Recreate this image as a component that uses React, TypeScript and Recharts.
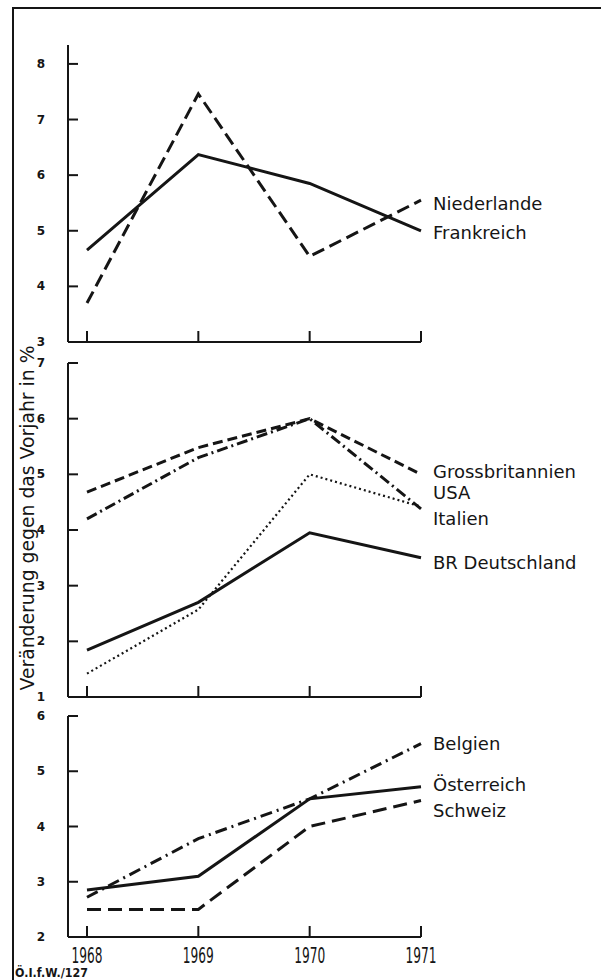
import { LineChart, Line, XAxis, YAxis, LabelList } from 'recharts';

// Veränderung gegen das Vorjahr in % (1968-1971)
const years = [1968, 1969, 1970, 1971];

// upper panel
const frankreich = [4.65, 6.37, 5.85, 5.0];
const niederlande = [3.7, 7.46, 4.54, 5.55];

// middle panel
const grossbritannien = [4.68, 5.48, 6.0, 5.0];
const usa = [4.2, 5.3, 6.0, 4.38];
const italien = [1.42, 2.57, 5.0, 4.42];
const deutschland = [1.84, 2.7, 3.95, 3.5];

// lower panel
const belgien = [2.72, 3.78, 4.5, 5.5];
const oesterreich = [2.85, 3.1, 4.5, 4.72];
const schweiz = [2.5, 2.5, 4.0, 4.47];

const topTicks = [3, 4, 5, 6, 7, 8];
const midTicks = [1, 2, 3, 4, 5, 6, 7];
const lowTicks = [2, 3, 4, 5, 6];

const INK = '#151515';
const FONT = '"DejaVu Sans", "Liberation Sans", sans-serif';
const WIDTH = 601;

type SeriesDef = {
    key: string;
    name: string;
    values: number[];
    dash?: string;
    width: number;
    labelDy: number;
};

type PanelProps = {
    series: SeriesDef[];
    domain: [number, number];
    ticks: number[];
    top: number;
    height: number;
    marginTop: number;
    xAxisHeight: number;
    showYearLabels: boolean;
};

const buildRows = (series: SeriesDef[]) =>
    years.map((year, i) => {
        const row: Record<string, number> = { year };
        series.forEach((s) => { row[s.key] = s.values[i]; });
        return row;
    });

// tick drawn inward (to the right of the axis line), number to the left
const YTick = ({ x, y, payload }: any) => (
    <g>
        <line x1={x} x2={x + 10} y1={y} y2={y} stroke={INK} strokeWidth={2} />
        <text x={x - 27} y={y} dy={4} textAnchor="middle" fontFamily={FONT} fontWeight="bold" fontSize={12} fill={INK}>
            {payload.value}
        </text>
    </g>
);

const makeXTick = (showLabel: boolean) => ({ x, y, payload }: any) => (
    <g>
        <line x1={x} x2={x} y1={y} y2={y - 11} stroke={INK} strokeWidth={2} />
        {showLabel && (
            <text x={x} y={y + 26} textAnchor="middle" fontFamily={FONT} fontSize={21} fill={INK}
                textLength={31} lengthAdjust="spacingAndGlyphs">
                {payload.value}
            </text>
        )}
    </g>
);

const endLabel = (name: string, dy: number) => (props: any) => {
    if (props.index !== years.length - 1) return null;
    const px = props.x ?? props.viewBox?.x;
    const py = props.y ?? props.viewBox?.y;
    return (
        <text x={px + 12} y={py + dy} dy={6} fontFamily={FONT} fontSize={18} fill={INK}>
            {name}
        </text>
    );
};

const Panel = ({ series, domain, ticks, top, height, marginTop, xAxisHeight, showYearLabels }: PanelProps) => (
    <div style={{ position: 'absolute', left: 0, top }}>
        <LineChart
            width={WIDTH}
            height={height}
            data={buildRows(series)}
            margin={{ top: marginTop, right: 180, bottom: 0, left: 0 }}
        >
            <XAxis
                dataKey="year"
                type="number"
                domain={[1968, 1971]}
                ticks={years}
                interval={0}
                padding={{ left: 19, right: 0 }}
                height={xAxisHeight}
                tickSize={0}
                tickMargin={0}
                tickLine={false}
                axisLine={{ stroke: INK, strokeWidth: 2 }}
                tick={makeXTick(showYearLabels)}
            />
            <YAxis
                type="number"
                domain={domain}
                ticks={ticks}
                interval={0}
                allowDataOverflow
                width={68}
                tickSize={0}
                tickMargin={0}
                tickLine={false}
                axisLine={{ stroke: INK, strokeWidth: 2 }}
                tick={YTick}
            />
            {series.map((s) => (
                <Line
                    key={s.key}
                    type="linear"
                    dataKey={s.key}
                    stroke={INK}
                    strokeWidth={s.width}
                    strokeDasharray={s.dash}
                    strokeLinecap="butt"
                    dot={false}
                    activeDot={false}
                    isAnimationActive={false}
                >
                    <LabelList dataKey={s.key} content={endLabel(s.name, s.labelDy)} />
                </Line>
            ))}
        </LineChart>
    </div>
);

const topSeries: SeriesDef[] = [
    { key: 'nl', name: 'Niederlande', values: niederlande, dash: '13 6', width: 3, labelDy: 4 },
    { key: 'fr', name: 'Frankreich', values: frankreich, width: 3, labelDy: 2 },
];

const midSeries: SeriesDef[] = [
    { key: 'gb', name: 'Grossbritannien', values: grossbritannien, dash: '10 5', width: 3, labelDy: -2 },
    { key: 'us', name: 'USA', values: usa, dash: '11 4 2 4', width: 3, labelDy: -16 },
    { key: 'it', name: 'Italien', values: italien, dash: '2 3', width: 2.2, labelDy: 12 },
    { key: 'de', name: 'BR Deutschland', values: deutschland, width: 3, labelDy: 5 },
];

const lowSeries: SeriesDef[] = [
    { key: 'be', name: 'Belgien', values: belgien, dash: '12 5 2 5', width: 3, labelDy: 0 },
    { key: 'at', name: 'Österreich', values: oesterreich, width: 3, labelDy: -2 },
    { key: 'ch', name: 'Schweiz', values: schweiz, dash: '14 7', width: 3, labelDy: 10 },
];

export default function App() {
    return (
        <div style={{ position: 'absolute', left: 0, top: 0, width: WIDTH, height: 980, background: '#fff', overflow: 'hidden' }}>
            <Panel series={topSeries} domain={[3, 8.34]} ticks={topTicks} top={30} height={322} marginTop={15} xAxisHeight={10} showYearLabels={false} />
            <Panel series={midSeries} domain={[1, 7]} ticks={midTicks} top={353} height={354} marginTop={10} xAxisHeight={10} showYearLabels={false} />
            <Panel series={lowSeries} domain={[2, 6]} ticks={lowTicks} top={706} height={261} marginTop={10} xAxisHeight={30} showYearLabels={true} />

            {/* frame, shared axis title and source note */}
            <svg width={WIDTH} height={980} style={{ position: 'absolute', left: 0, top: 0, pointerEvents: 'none' }}>
                <line x1={13} x2={WIDTH} y1={8} y2={8} stroke={INK} strokeWidth={2} />
                <line x1={13} x2={13} y1={7} y2={980} stroke={INK} strokeWidth={2} />
                <text
                    transform="translate(34, 518) rotate(-90)"
                    textAnchor="middle"
                    fontFamily={FONT}
                    fontSize={19}
                    fill={INK}
                    textLength={345}
                    lengthAdjust="spacingAndGlyphs"
                >
                    Veränderung gegen das Vorjahr in %
                </text>
                <text x={15} y={977} fontFamily={FONT} fontWeight="bold" fontSize={12} fill={INK}
                    textLength={73} lengthAdjust="spacingAndGlyphs">
                    Ö.I.f.W./127
                </text>
            </svg>
        </div>
    );
}
